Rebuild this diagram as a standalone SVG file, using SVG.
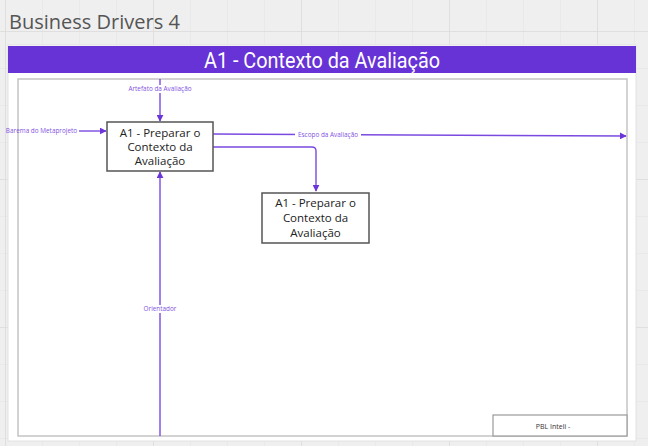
<svg xmlns="http://www.w3.org/2000/svg" width="648" height="446" viewBox="0 0 648 446">
<defs>
<pattern id="grid" x="5" y="31" width="37" height="37" patternUnits="userSpaceOnUse">
<path d="M0 0H37M0 0V37" stroke="#e4e4e4" stroke-width="1" fill="none"/>
</pattern>
<pattern id="gridM" x="5" y="31" width="148" height="148" patternUnits="userSpaceOnUse">
<path d="M0 0H148M0 0V148" stroke="#dcdcdc" stroke-width="1.5" fill="none"/>
</pattern>
<marker id="arr" viewBox="0 0 10 10" refX="9" refY="5" markerWidth="7" markerHeight="7" orient="auto" markerUnits="userSpaceOnUse">
<path d="M0 0L10 5L0 10z" fill="#6b35d9"/>
</marker>
<style>
.conn{fill:none;stroke:#7a4ae0;stroke-width:1.4}
.lbl{font-family:"Open Sans","Liberation Sans",sans-serif;font-size:6.4px;fill:#7f52e2;text-anchor:middle}
.lblbg{fill:#ffffff}
.box{fill:#ffffff;stroke:#555555;stroke-width:1.5}
.boxt{font-family:"Open Sans","Liberation Sans",sans-serif;font-size:11.5px;fill:#222222;text-anchor:middle}
</style>
</defs>
<rect width="648" height="446" fill="#efefef"/>
<rect width="648" height="446" fill="url(#grid)"/>
<rect width="648" height="446" fill="url(#gridM)"/>
<text x="9" y="29" font-family="Open Sans, Liberation Sans, sans-serif" font-size="20" fill="#555555">Business Drivers 4</text>
<g id="frame">
<rect x="8" y="45" width="628" height="396" fill="#ffffff" stroke="#e2e2e2" stroke-width="1"/>
<rect x="8" y="46" width="628" height="27" fill="#6732d6"/>
<text x="322" y="67.500" font-family="Roboto, Liberation Sans, sans-serif" font-size="22" fill="#ffffff" text-anchor="middle" textLength="236" lengthAdjust="spacingAndGlyphs">A1 - Contexto da Avaliação</text>
<rect x="18" y="79" width="609" height="357" fill="#ffffff" stroke="#c4c4c4" stroke-width="1.5"/>
</g>
<g id="connectors">
<path class="conn" d="M160 79V121" marker-end="url(#arr)"/>
<rect class="lblbg" x="125" y="85" width="70" height="8"/>
<text class="lbl" x="160" y="91">Artefato da Avaliação</text>
<path class="conn" d="M79 131H106" marker-end="url(#arr)"/>
<text class="lbl" x="41.500" y="133">Barema do Metaprojeto</text>
<path class="conn" d="M213 134L626 136" marker-end="url(#arr)"/>
<rect class="lblbg" x="295" y="131" width="66" height="8"/>
<text class="lbl" x="328" y="137">Escopo da Avaliação</text>
<path class="conn" d="M213 147H312Q316 147 316 151V191" marker-end="url(#arr)"/>
<path class="conn" d="M160 436V172" marker-end="url(#arr)"/>
<rect class="lblbg" x="141" y="305" width="38" height="8"/>
<text class="lbl" x="160" y="311">Orientador</text>
</g>
<g id="node-a1">
<rect class="box" x="107" y="122" width="106" height="49"/>
<text class="boxt" x="160" y="137">A1 - Preparar o</text>
<text class="boxt" x="160" y="151">Contexto da</text>
<text class="boxt" x="160" y="165">Avaliação</text>
</g>
<g id="node-a1b">
<rect class="box" x="262" y="193" width="107" height="50"/>
<text class="boxt" x="315.500" y="207">A1 - Preparar o</text>
<text class="boxt" x="315.500" y="222">Contexto da</text>
<text class="boxt" x="315.500" y="237">Avaliação</text>
</g>
<g id="footer">
<rect x="493" y="415" width="134" height="21" fill="#ffffff" stroke="#999999" stroke-width="1.2"/>
<text x="553" y="429" font-family="Open Sans, Liberation Sans, sans-serif" font-size="7" fill="#333333" text-anchor="middle">PBL Inteli -</text>
</g>
</svg>
